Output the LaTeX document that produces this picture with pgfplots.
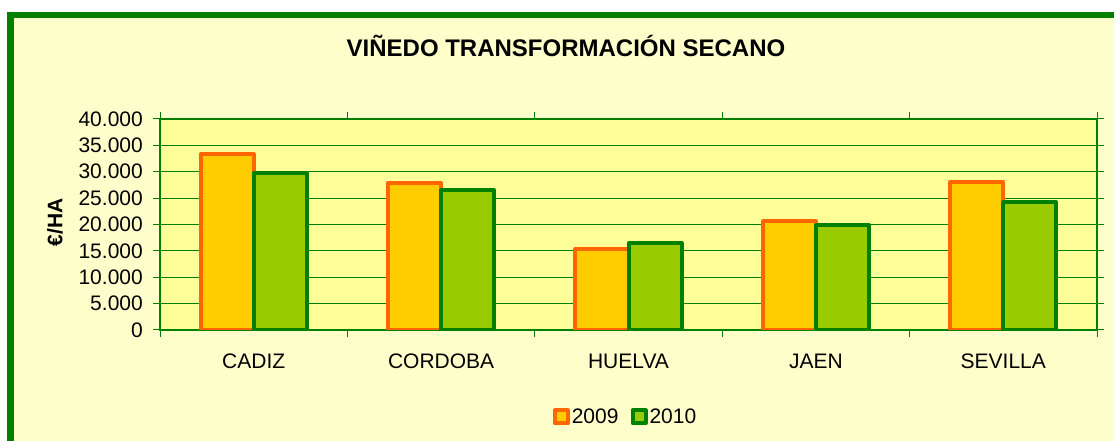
\documentclass[border=0pt]{standalone}
\usepackage{fontspec}
\setmainfont{Liberation Sans}
\usepackage{pgfplots}
\pgfplotsset{compat=1.18}
\definecolor{outerbg}{HTML}{FFFFCC}
\definecolor{plotbg}{HTML}{FFFF99}
\definecolor{xlgreen}{HTML}{008000}
\definecolor{ora}{HTML}{FF6600}
\definecolor{yel}{HTML}{FFCC00}
\definecolor{lime}{HTML}{99CC00}
\begin{document}
\begin{tikzpicture}[x=1pt,y=1pt]
\path[use as bounding box] (0,0) rectangle (1114,441);
\begin{scope}
\clip (0,0) rectangle (1114,441);
\fill[white] (0,0) rectangle (1114,441);
\draw[xlgreen, line width=6.5pt, fill=outerbg] (10.5,-20) rectangle (1140,426);
\end{scope}
\node[font=\fontsize{24}{28}\selectfont\bfseries] at (566,395.5) {VIÑEDO TRANSFORMACIÓN SECANO};
\node[font=\fontsize{21}{25}\selectfont\bfseries, rotate=90] at (55,218.5) {€/HA};
\begin{axis}[
  at={(160pt,111pt)}, anchor=south west,
  scale only axis, width=937pt, height=211pt,
  xmin=-0.5, xmax=4.5, ymin=0, ymax=40000,
  axis background/.style={fill=plotbg},
  axis line style={xlgreen, line width=1.5pt},
  ybar=0pt, bar width=0.283,
  xtick={0,1,2,3,4},
  xticklabels={CADIZ,CORDOBA,HUELVA,JAEN,SEVILLA},
  minor xtick={-0.5,0.5,1.5,2.5,3.5,4.5},
  major x tick style={draw=none},
  minor x tick style={xlgreen, line width=1pt},
  ytick={0,5000,...,40000},
  ytick style={xlgreen, line width=1pt},
  tick align=outside,
  major tick length=7pt, minor tick length=7pt,
  ymajorgrids,
  major grid style={xlgreen, line width=1pt},
  scaled y ticks=false,
  /pgf/number format/.cd, fixed, precision=0, 1000 sep={.}, assume math mode=true,
  /pgfplots/.cd,
  tick label style={font=\fontsize{21}{25}\selectfont, text=black},
  xticklabel style={inner sep=0pt, anchor=north, yshift=-17pt},
  yticklabel style={inner sep=0pt, anchor=east, xshift=-10pt},
  legend style={at={(axis description cs:0.4968,-0.412)}, anchor=center,
    draw=none, fill=none, font=\fontsize{21}{25}\selectfont,
    /tikz/every even column/.append style={column sep=10pt}},
  legend columns=2,
  legend image code/.code={\draw[#1, line width=4pt, line join=round] (0pt,-6.5pt) rectangle (13pt,6.5pt);},
]
\addplot[draw=ora, fill=yel, line width=4pt, line join=round] coordinates {(0,33300) (1,27900) (2,15400) (3,20600) (4,28000)};
\addplot[draw=xlgreen, fill=lime, line width=4pt, line join=round] coordinates {(0,29800) (1,26500) (2,16500) (3,19900) (4,24200)};
\legend{2009,2010}
\end{axis}
\end{tikzpicture}
\end{document}
